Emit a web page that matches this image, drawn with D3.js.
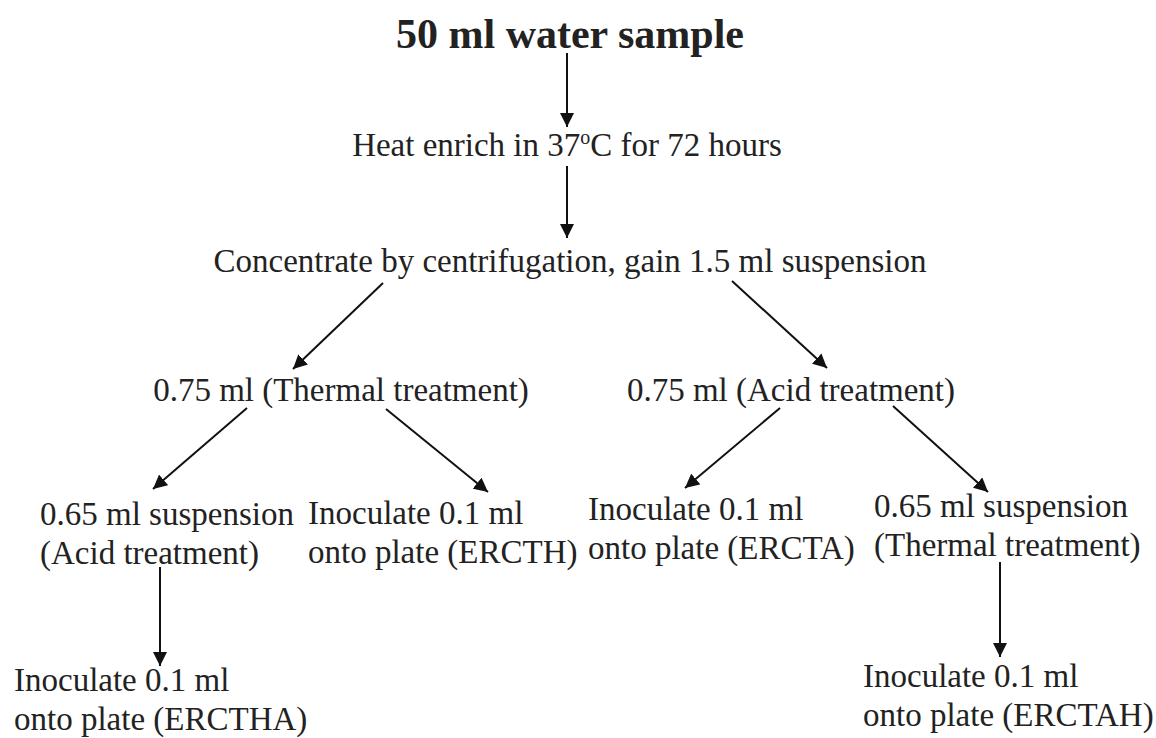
<!DOCTYPE html>
<html>
<head>
<meta charset="utf-8">
<script src="https://cdn.jsdelivr.net/npm/d3@7"></script>
<style>
  html, body { margin: 0; padding: 0; background: #fff; }
  svg { display: block; }
  text { font-family: "Liberation Serif", "Times New Roman", serif; fill: #222; }
</style>
</head>
<body>
<svg id="chart" width="1156" height="738"></svg>
<script>
// Flowchart content: node ids, their text lines, and which node feeds which.
const nodeIds = ['sample', 'heat', 'conc', 'thermal', 'acid',
                 'acid65', 'ercth', 'ercta', 'thermal65', 'ercthA', 'erctah'];
const nodeLines = [
  ['50 ml water sample'],
  ['Heat enrich in 37|o|C for 72 hours'],
  ['Concentrate by centrifugation, gain 1.5 ml suspension'],
  ['0.75 ml (Thermal treatment)'],
  ['0.75 ml (Acid treatment)'],
  ['0.65 ml suspension', '(Acid treatment)'],
  ['Inoculate 0.1 ml', 'onto plate (ERCTH)'],
  ['Inoculate 0.1 ml', 'onto plate (ERCTA)'],
  ['0.65 ml suspension', '(Thermal treatment)'],
  ['Inoculate 0.1 ml', 'onto plate (ERCTHA)'],
  ['Inoculate 0.1 ml', 'onto plate (ERCTAH)'],
];
const linkSources = ['sample', 'heat', 'conc', 'conc', 'thermal', 'thermal', 'acid', 'acid', 'acid65', 'thermal65'];
const linkTargets = ['heat', 'conc', 'thermal', 'acid', 'acid65', 'ercth', 'ercta', 'thermal65', 'ercthA', 'erctah'];

// Layout (page pixels): text anchor + first baseline for each node,
// and start/end ports for each link.
const nodeLayout = {
  sample:    {x: 570, y: 48,  anchor: 'middle', bold: true},
  heat:      {x: 567, y: 156, anchor: 'middle'},
  conc:      {x: 570, y: 272, anchor: 'middle'},
  thermal:   {x: 341, y: 401, anchor: 'middle'},
  acid:      {x: 791, y: 401, anchor: 'middle'},
  acid65:    {x: 40,  y: 525, anchor: 'start'},
  ercth:     {x: 308, y: 524, anchor: 'start'},
  ercta:     {x: 588, y: 520, anchor: 'start'},
  thermal65: {x: 874, y: 517, anchor: 'start'},
  ercthA:    {x: 14,  y: 691, anchor: 'start'},
  erctah:    {x: 863, y: 687, anchor: 'start'},
};
const linkLayout = [
  [567, 53, 567, 127],
  [567, 166, 567, 238],
  [383, 283, 293, 369],
  [732, 281, 827, 368],
  [247, 408, 153, 489],
  [386, 409, 488, 492],
  [780, 408, 685, 488],
  [893, 406, 988, 492],
  [160, 567, 160, 666],
  [1000, 562, 1000, 657],
];

const svg = d3.select('#chart');
const lineHeight = 39;

svg.append('defs').append('marker')
    .attr('id', 'head')
    .attr('viewBox', '0 0 14 14')
    .attr('refX', 14)
    .attr('refY', 7)
    .attr('markerWidth', 14)
    .attr('markerHeight', 14)
    .attr('markerUnits', 'userSpaceOnUse')
    .attr('orient', 'auto')
  .append('path')
    .attr('d', 'M0,0 L14,7 L0,14 Z')
    .attr('fill', '#111');

let links = linkSources.map((s, i) => ({source: s, target: linkTargets[i], pos: linkLayout[i]}));

svg.selectAll('line.link')
    .data(links)
    .join('line')
    .attr('class', 'link')
    .attr('x1', d => d.pos[0])
    .attr('y1', d => d.pos[1])
    .attr('x2', d => d.pos[2])
    .attr('y2', d => d.pos[3])
    .attr('stroke', '#111')
    .attr('stroke-width', 2)
    .attr('marker-end', 'url(#head)');

let nodes = nodeIds.map((id, i) => Object.assign({id: id, lines: nodeLines[i]}, nodeLayout[id]));

let labels = svg.selectAll('text.node')
    .data(nodes)
    .join('text')
    .attr('class', 'node')
    .attr('x', d => d.x)
    .attr('y', d => d.y)
    .attr('text-anchor', d => d.anchor)
    .style('font-size', d => d.bold ? '42px' : '33px')
    .style('font-weight', d => d.bold ? 'bold' : 'normal');

labels.each(function(d) {
  let t = d3.select(this);
  d.lines.forEach((line, li) => {
    // '|' splits out a superscript piece (the degree "o")
    let parts = line.split('|');
    parts.forEach((p, pi) => {
      let span = t.append('tspan').text(p);
      if (pi === 0) span.attr('x', d.x).attr('dy', li === 0 ? 0 : lineHeight);
      if (pi % 2 === 1) {
        span.style('font-size', '20px').attr('dy', -12);
      } else if (pi > 0) {
        span.attr('dy', 12);
      }
    });
  });
});
</script>
</body>
</html>
